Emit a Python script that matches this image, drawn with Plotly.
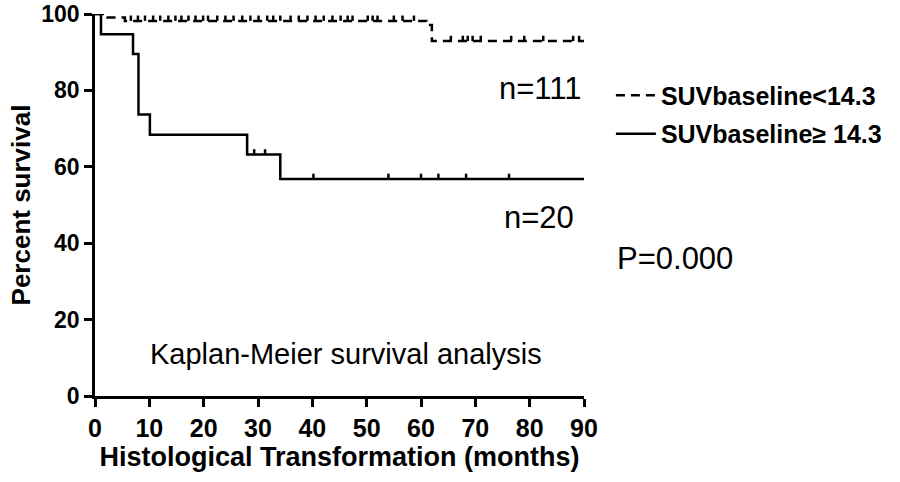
import plotly.graph_objects as go

# Kaplan-Meier curves (months, percent survival)
low_times = [0, 2.3, 5.5, 61.0, 62.0, 90]
low_surv = [100, 99.1, 98.2, 97.1, 92.9, 92.9]
low_censored = [6.6, 7.9, 9.2, 10.7, 12.0, 13.5, 14.8, 15.9, 17.2, 18.5, 19.9, 20.8,
                22.5, 24.0, 25.5, 27.1, 28.6, 30.1, 31.7, 32.8, 34.1, 36.0, 37.5, 39.1,
                40.6, 42.1, 43.7, 45.2, 46.5, 47.4, 50.2, 51.1, 52.0, 55.0, 56.6, 58.7,
                65.5, 67.7, 68.6, 69.5, 71.0, 76.6, 79.0, 82.5, 88.0, 89.1]

high_times = [0, 1.1, 7.0, 8.0, 10.1, 28.0, 34.1, 90]
high_surv = [100, 94.7, 89.5, 73.7, 68.4, 63.2, 56.8, 56.8]
high_censored = [29.3, 31.3, 40.2, 54.0, 60.0, 63.2, 68.3, 76.2]

xticks = [0, 10, 20, 30, 40, 50, 60, 70, 80, 90]
yticks = [0, 20, 40, 60, 80, 100]

FONT = "Liberation Sans, Arial, sans-serif"


def surv_at(t, times, surv):
    s = surv[0]
    for ti, si in zip(times, surv):
        if ti <= t:
            s = si
    return s


def tick_xy(cens, times, surv, h=1.4):
    xs, ys = [], []
    for t in cens:
        s = surv_at(t, times, surv)
        xs += [t, t, None]
        ys += [s, s + h, None]
    return xs, ys


fig = go.Figure()

fig.add_trace(go.Scatter(x=low_times, y=low_surv, mode="lines", line_shape="hv",
                         line=dict(color="black", width=2.5, dash="9px,6px"),
                         name="SUVbaseline<14.3", legendgroup="a"))
tx, ty = tick_xy(low_censored, low_times, low_surv)
fig.add_trace(go.Scatter(x=tx, y=ty, mode="lines", line=dict(color="black", width=2.5),
                         showlegend=False, hoverinfo="skip"))

fig.add_trace(go.Scatter(x=high_times, y=high_surv, mode="lines", line_shape="hv",
                         line=dict(color="black", width=2.5),
                         name="SUVbaseline\u2265 14.3", legendgroup="b"))
tx, ty = tick_xy(high_censored, high_times, high_surv)
fig.add_trace(go.Scatter(x=tx, y=ty, mode="lines", line=dict(color="black", width=2.5),
                         showlegend=False, hoverinfo="skip"))

fig.add_annotation(x=89.8, y=80.6, text="n=111", showarrow=False, xanchor="right",
                   font=dict(size=31, color="black", family=FONT))
fig.add_annotation(x=88.5, y=46.6, text="n=20", showarrow=False, xanchor="right",
                   font=dict(size=31, color="black", family=FONT))
fig.add_annotation(x=9.8, y=11, text="Kaplan-Meier survival analysis", showarrow=False,
                   xanchor="left", font=dict(size=29, color="black", family=FONT))
fig.add_annotation(x=1.063, y=0.361, xref="paper", yref="paper", text="P=0.000",
                   showarrow=False, xanchor="left",
                   font=dict(size=31, color="black", family=FONT))

fig.update_layout(
    width=900, height=482,
    margin=dict(l=95, r=316, t=14, b=86),
    paper_bgcolor="white", plot_bgcolor="white",
    font=dict(family=FONT, color="black"),
    showlegend=True,
    legend=dict(x=1.055, y=0.847, xanchor="left", yanchor="top",
                font=dict(size=25, family=FONT, weight="bold"),
                itemwidth=40, tracegroupgap=3, bgcolor="rgba(0,0,0,0)"),
)
fig.update_xaxes(range=[0, 90], tickvals=xticks, showgrid=False, zeroline=False,
                 showline=True, linecolor="black", linewidth=2.5, automargin=False,
                 ticks="outside", ticklen=8, tickwidth=2.5, tickcolor="black",
                 tickfont=dict(size=25, family=FONT, weight="bold"),
                 title=dict(text="Histological Transformation (months)",
                            font=dict(size=27, family=FONT, weight="bold"), standoff=6))
fig.update_yaxes(range=[0, 100], tickvals=yticks, showgrid=False, zeroline=False,
                 showline=True, linecolor="black", linewidth=2.5, automargin=False,
                 ticks="outside", ticklen=8, tickwidth=2.5, tickcolor="black",
                 tickfont=dict(size=23, family=FONT, weight="bold"),
                 title=dict(text="Percent survival",
                            font=dict(size=26, family=FONT, weight="bold"), standoff=4))

fig.write_html("out.html", config={"displayModeBar": False},
               post_script="document.body.style.margin='0';")
